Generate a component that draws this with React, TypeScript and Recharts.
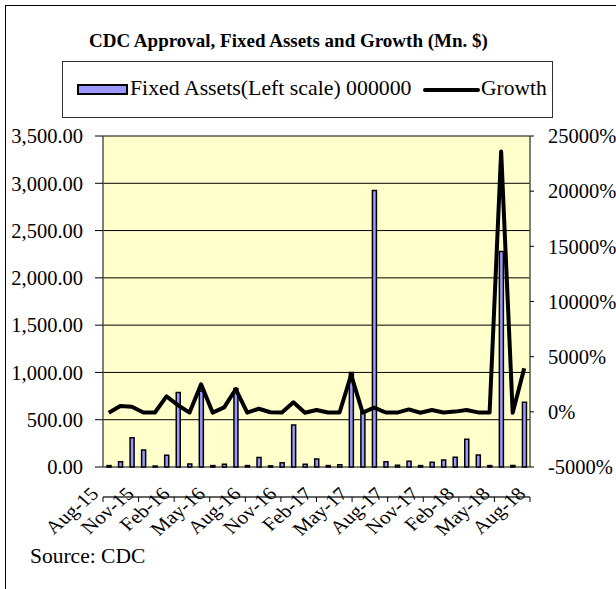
import React from 'react';
import { ComposedChart, Bar, Line, XAxis, YAxis, CartesianGrid } from 'recharts';

const months = [
  'Aug-15', 'Sep-15', 'Oct-15', 'Nov-15', 'Dec-15', 'Jan-16', 'Feb-16', 'Mar-16', 'Apr-16', 'May-16',
  'Jun-16', 'Jul-16', 'Aug-16', 'Sep-16', 'Oct-16', 'Nov-16', 'Dec-16', 'Jan-17', 'Feb-17', 'Mar-17',
  'Apr-17', 'May-17', 'Jun-17', 'Jul-17', 'Aug-17', 'Sep-17', 'Oct-17', 'Nov-17', 'Dec-17', 'Jan-18',
  'Feb-18', 'Mar-18', 'Apr-18', 'May-18', 'Jun-18', 'Jul-18', 'Aug-18',
];

const fixedAssets = [
  15, 55, 310, 180, 10, 124, 787, 32, 800, 15,
  30, 830, 15, 100, 12, 45, 445, 30, 85, 15,
  25, 1000, 580, 2925, 56, 18, 60, 15, 50, 74,
  102, 293, 127, 15, 2280, 15, 685,
];

const growth = [
  -80, 520, 460, -60, -60, 1400, 600, -70, 2500, -70,
  400, 2050, -80, 280, -40, -60, 870, -80, 170, -60,
  -60, 3350, -70, 380, -60, -70, 220, -80, 160, -60,
  20, 160, -50, -50, 23600, -90, 3950,
];

const xTickIndices = [0, 3, 6, 9, 12, 15, 18, 21, 24, 27, 30, 33, 36];
const leftTicks = [0, 500, 1000, 1500, 2000, 2500, 3000, 3500];
const rightTicks = [-5000, 0, 5000, 10000, 15000, 20000, 25000];

const data = months.map((m, i) => ({ month: m, assets: fixedAssets[i], growth: growth[i] }));

const FONT = '"Liberation Serif", "Times New Roman", serif';
const W = 616;
const H = 589;
const LEFT_W = 103;
const RIGHT_W = 86;
const TOP = 136;
const BOTTOM_M = 62;
const XAXIS_H = 60;
const AXIS_Y = H - BOTTOM_M - XAXIS_H;
const PLOT_W = W - LEFT_W - RIGHT_W;
const HALF_BAND = PLOT_W / months.length / 2;

const XTick = (props: any) => {
  const { x, payload } = props;
  const label = months[payload.value];
  if (!label) return null;
  return (
    <g transform={`translate(${x + HALF_BAND - 9},${AXIS_Y + 28}) scale(1.15,1)`}>
      <text x={0} y={0} textAnchor="end" transform="rotate(-45)" fontFamily={FONT} fontSize={18.5} fill="#000">
        {label}
      </text>
    </g>
  );
};

const fmtLeft = (v: number) =>
  v.toLocaleString('en-US', { minimumFractionDigits: 2, maximumFractionDigits: 2 });
const fmtRight = (v: number) => `${v}%`;

export default function App() {
  return (
    <div style={{ position: 'absolute', left: 0, top: 0, width: W, height: H, background: '#fff', overflow: 'hidden' }}>
      <div style={{ position: 'absolute', left: 5, top: 5, width: W, height: H, borderLeft: '1.5px solid #000', borderTop: '1.5px solid #000' }} />
      <div style={{ position: 'absolute', left: 89, top: 31, fontFamily: FONT, fontWeight: 'bold', fontSize: 19, lineHeight: '19px', whiteSpace: 'nowrap', color: '#000' }}>
        CDC Approval, Fixed Assets and Growth (Mn. $)
      </div>
      <div style={{ position: 'absolute', left: 62, top: 61, width: 491, height: 57, border: '1px solid #333', boxSizing: 'border-box' }} />
      <div style={{ position: 'absolute', left: 77, top: 84, width: 51, height: 11, background: '#9999FF', border: '2px solid #000', boxSizing: 'border-box' }} />
      <div style={{ position: 'absolute', left: 130, top: 78, fontFamily: FONT, fontSize: 21.8, lineHeight: '21px', whiteSpace: 'nowrap', color: '#000' }}>
        Fixed Assets(Left scale) 000000
      </div>
      <div style={{ position: 'absolute', left: 423, top: 87.5, width: 57, height: 4, background: '#000', borderRadius: 2 }} />
      <div style={{ position: 'absolute', left: 481, top: 78, fontFamily: FONT, fontSize: 21.5, lineHeight: '21px', whiteSpace: 'nowrap', color: '#000' }}>
        Growth
      </div>
      <div style={{ position: 'absolute', left: 30, top: 546, fontFamily: FONT, fontSize: 21.5, lineHeight: '21px', whiteSpace: 'nowrap', color: '#000' }}>
        Source: CDC
      </div>
      <div style={{ position: 'absolute', left: 0, top: 0 }}>
        <ComposedChart
          width={W}
          height={H}
          data={data}
          margin={{ top: TOP, right: 0, bottom: BOTTOM_M, left: 0 }}
          barSize={4}
        >
          <CartesianGrid
            yAxisId="left"
            xAxisId="cat"
            vertical={false}
            stroke="#000"
            strokeWidth={1}
            fill="#FFFFCC"
            fillOpacity={1}
          />
          <XAxis xAxisId="cat" dataKey="month" hide />
          <XAxis
            xAxisId="num"
            type="number"
            domain={[0, months.length]}
            ticks={xTickIndices}
            interval={0}
            allowDataOverflow
            height={XAXIS_H}
            axisLine={{ stroke: '#333', strokeWidth: 1.5 }}
            tickLine={{ stroke: '#000' }}
            tickSize={5}
            tickMargin={2}
            tick={<XTick />}
          />
          <YAxis
            yAxisId="left"
            domain={[0, 3500]}
            ticks={leftTicks}
            interval={0}
            width={LEFT_W}
            tickFormatter={fmtLeft}
            axisLine={{ stroke: '#555', strokeWidth: 1.5 }}
            tickLine={{ stroke: '#000' }}
            tickSize={8}
            tickMargin={12}
            tick={{ fontFamily: FONT, fontSize: 20.5, fill: '#000' }}
          />
          <YAxis
            yAxisId="right"
            orientation="right"
            domain={[-5000, 25000]}
            ticks={rightTicks}
            interval={0}
            width={RIGHT_W}
            tickFormatter={fmtRight}
            axisLine={{ stroke: '#555', strokeWidth: 1.5 }}
            tickLine={{ stroke: '#000' }}
            tickSize={4}
            tickMargin={14}
            tick={{ fontFamily: FONT, fontSize: 20.5, fill: '#000' }}
          />
          <Bar
            xAxisId="cat"
            yAxisId="left"
            dataKey="assets"
            fill="#9999FF"
            stroke="#000"
            strokeWidth={1.5}
            isAnimationActive={false}
          />
          <Line
            xAxisId="cat"
            yAxisId="right"
            dataKey="growth"
            stroke="#000"
            strokeWidth={4}
            strokeLinejoin="round"
            dot={false}
            activeDot={false}
            isAnimationActive={false}
          />
        </ComposedChart>
      </div>
    </div>
  );
}
